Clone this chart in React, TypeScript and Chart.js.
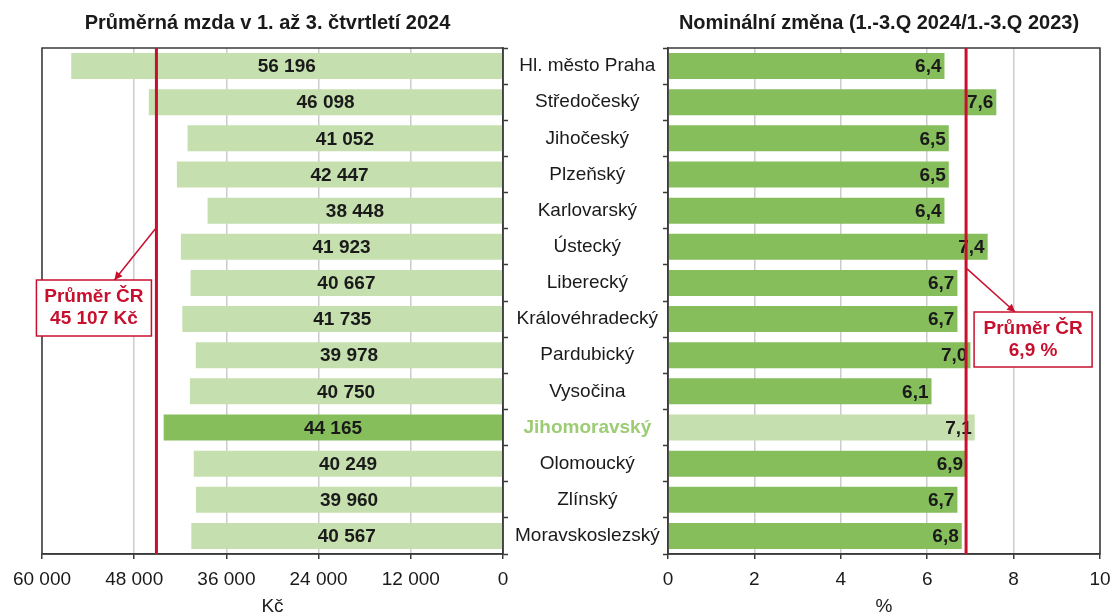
import React, { useEffect, useRef } from 'react';
import { Chart, registerables } from 'chart.js';

Chart.register(...registerables);

const regions = [
  'Hl. město Praha',
  'Středočeský',
  'Jihočeský',
  'Plzeňský',
  'Karlovarský',
  'Ústecký',
  'Liberecký',
  'Královéhradecký',
  'Pardubický',
  'Vysočina',
  'Jihomoravský',
  'Olomoucký',
  'Zlínský',
  'Moravskoslezský',
];
const avgWage = [56196, 46098, 41052, 42447, 38448, 41923, 40667, 41735, 39978, 40750, 44165, 40249, 39960, 40567];
const nominalChange = [6.4, 7.6, 6.5, 6.5, 6.4, 7.4, 6.7, 6.7, 7.0, 6.1, 7.1, 6.9, 6.7, 6.8];
const wageAxis = { min: 0, max: 60000, step: 12000 };
const changeAxis = { min: 0, max: 10, step: 2 };
const avgWageCR = 45107;
const avgChangeCR = 6.9;
const highlightIndex = 10;
const leftTitle = 'Průměrná mzda v 1. až 3. čtvrtletí 2024';
const rightTitle = 'Nominální změna (1.-3.Q 2024/1.-3.Q 2023)';
const leftAxisTitle = 'Kč';
const rightAxisTitle = '%';
const leftNote = ['Průměr ČR', '45 107 Kč'];
const rightNote = ['Průměr ČR', '6,9 %'];

const FONT = "'Liberation Sans', Arial, sans-serif";
const LIGHT = '#c5dfae';
const DARK = '#86be5c';
const HILITE_TEXT = '#9ccc74';
const RED = '#c8102e';
const AXIS = '#3a3a3a';
const GRID = '#cccccc';
const TEXT = '#1a1a1a';

const fmtThousands = (n: number) => String(Math.round(n)).replace(/\B(?=(\d{3})+(?!\d))/g, ' ');
const fmtDecimal = (n: number) => n.toFixed(1).replace('.', ',');

function drawArrow(ctx: CanvasRenderingContext2D, x0: number, y0: number, x1: number, y1: number) {
  ctx.save();
  ctx.strokeStyle = RED;
  ctx.fillStyle = RED;
  ctx.lineWidth = 1.5;
  ctx.beginPath();
  ctx.moveTo(x0, y0);
  ctx.lineTo(x1, y1);
  ctx.stroke();
  const a = Math.atan2(y1 - y0, x1 - x0);
  const len = 8;
  const w = 4;
  ctx.beginPath();
  ctx.moveTo(x1, y1);
  ctx.lineTo(x1 - len * Math.cos(a) + w * Math.sin(a), y1 - len * Math.sin(a) - w * Math.cos(a));
  ctx.lineTo(x1 - len * Math.cos(a) - w * Math.sin(a), y1 - len * Math.sin(a) + w * Math.cos(a));
  ctx.closePath();
  ctx.fill();
  ctx.restore();
}

function drawNote(ctx: CanvasRenderingContext2D, left: number, top: number, w: number, h: number, lines: string[]) {
  ctx.save();
  ctx.fillStyle = '#ffffff';
  ctx.fillRect(left, top, w, h);
  ctx.strokeStyle = RED;
  ctx.lineWidth = 1.5;
  ctx.strokeRect(left, top, w, h);
  ctx.fillStyle = RED;
  ctx.font = `bold 19px ${FONT}`;
  ctx.textAlign = 'center';
  ctx.textBaseline = 'middle';
  ctx.fillText(lines[0], left + w / 2, top + 17);
  ctx.fillText(lines[1], left + w / 2, top + 39);
  ctx.restore();
}

function avgLine(chart: any, value: number) {
  const { ctx, chartArea } = chart;
  const x = chart.scales.x.getPixelForValue(value);
  ctx.save();
  ctx.strokeStyle = RED;
  ctx.lineWidth = 3;
  ctx.beginPath();
  ctx.moveTo(x, chartArea.top);
  ctx.lineTo(x, chartArea.bottom);
  ctx.stroke();
  ctx.restore();
  return x;
}

function frame(chart: any) {
  const { ctx, chartArea } = chart;
  ctx.save();
  ctx.strokeStyle = AXIS;
  ctx.lineWidth = 1.5;
  ctx.strokeRect(chartArea.left, chartArea.top, chartArea.right - chartArea.left, chartArea.bottom - chartArea.top);
  ctx.restore();
}

function title(chart: any, text: string) {
  const { ctx, chartArea } = chart;
  ctx.save();
  ctx.fillStyle = TEXT;
  ctx.font = `bold 20px ${FONT}`;
  ctx.textAlign = 'center';
  ctx.textBaseline = 'middle';
  ctx.fillText(text, (chartArea.left + chartArea.right) / 2 - 5, 23);
  ctx.restore();
}

const tickFont = { family: FONT, size: 19 };

export default function App() {
  const leftRef = useRef<HTMLCanvasElement>(null);
  const rightRef = useRef<HTMLCanvasElement>(null);

  useEffect(() => {
    const leftPlugin = {
      id: 'leftDecor',
      afterDatasetsDraw(chart: any) {
        const { ctx } = chart;
        const meta = chart.getDatasetMeta(0);
        ctx.save();
        ctx.font = `bold 19px ${FONT}`;
        ctx.fillStyle = TEXT;
        ctx.textAlign = 'center';
        ctx.textBaseline = 'middle';
        meta.data.forEach((bar: any, i: number) => {
          const p = bar.getProps(['x', 'base', 'y'], true);
          ctx.fillText(fmtThousands(avgWage[i]), (p.x + p.base) / 2, p.y + 1);
        });
        ctx.restore();
      },
      afterDraw(chart: any) {
        frame(chart);
        const x = avgLine(chart, avgWageCR);
        const y = chart.scales.y;
        const yStart = (y.getPixelForValue(4) + y.getPixelForValue(5)) / 2;
        const boxTop = chart.chartArea.top + 232;
        drawArrow(chart.ctx, x - 1, yStart, x - 42, boxTop);
        drawNote(chart.ctx, x - 120, boxTop, 115, 56, leftNote);
        title(chart, leftTitle);
      },
    };

    const rightPlugin = {
      id: 'rightDecor',
      afterDatasetsDraw(chart: any) {
        const { ctx } = chart;
        const meta = chart.getDatasetMeta(0);
        ctx.save();
        ctx.font = `bold 19px ${FONT}`;
        ctx.fillStyle = TEXT;
        ctx.textAlign = 'right';
        ctx.textBaseline = 'middle';
        meta.data.forEach((bar: any, i: number) => {
          const p = bar.getProps(['x', 'y'], true);
          ctx.fillText(fmtDecimal(nominalChange[i]), p.x - 3, p.y + 1);
        });
        ctx.restore();
      },
      afterDraw(chart: any) {
        frame(chart);
        const x = avgLine(chart, avgChangeCR);
        const y = chart.scales.y;
        const yStart = (y.getPixelForValue(5) + y.getPixelForValue(6)) / 2 + 4;
        const boxTop = chart.chartArea.top + 264;
        drawArrow(chart.ctx, x + 1, yStart, x + 49, boxTop);
        drawNote(chart.ctx, x + 8, boxTop, 118, 55, rightNote);
        title(chart, rightTitle);
      },
    };

    const xCommon = (min: number, max: number, step: number, fmt: (v: number) => string, axisTitle: string, reverse: boolean) => ({
      reverse,
      min,
      max,
      ticks: {
        stepSize: step,
        callback: (v: any) => fmt(Number(v)),
        font: tickFont,
        color: TEXT,
        padding: 9,
        maxRotation: 0,
        autoSkip: false,
      },
      grid: { color: GRID, lineWidth: 1.5, tickColor: AXIS, tickLength: 5, tickWidth: 1.5 },
      border: { color: AXIS, width: 1.5 },
      title: {
        display: true,
        text: axisTitle,
        color: TEXT,
        font: { family: FONT, size: 19, lineHeight: 1 },
        padding: 0,
      },
      afterFit: (s: any) => {
        s.height = 62;
        s.paddingLeft = 0;
        s.paddingRight = 0;
      },
    });

    const left = new Chart(leftRef.current!, {
      type: 'bar',
      data: {
        labels: regions,
        datasets: [
          {
            data: avgWage,
            backgroundColor: avgWage.map((_, i) => (i === highlightIndex ? DARK : LIGHT)),
            barPercentage: 0.72,
            categoryPercentage: 1,
          },
        ],
      },
      options: {
        indexAxis: 'y',
        responsive: false,
        animation: false,
        layout: { padding: { left: 42, top: 48, right: 0, bottom: 0 } },
        plugins: { legend: { display: false }, tooltip: { enabled: false } },
        scales: {
          x: xCommon(wageAxis.min, wageAxis.max, wageAxis.step, fmtThousands, leftAxisTitle, true) as any,
          y: {
            position: 'right',
            grid: { drawOnChartArea: false, tickColor: AXIS, tickLength: 5, tickWidth: 1.5, offset: true },
            border: { color: AXIS, width: 1.5 },
            ticks: {
              crossAlign: 'center',
              padding: 7,
              font: (c: any) => ({ family: FONT, size: 19, weight: c.index === highlightIndex ? 'bold' : 'normal' }),
              color: (c: any) => (c.index === highlightIndex ? HILITE_TEXT : TEXT),
              autoSkip: false,
            },
            afterFit: (s: any) => {
              s.width = 165;
            },
          } as any,
        },
      },
      plugins: [leftPlugin],
    });

    const right = new Chart(rightRef.current!, {
      type: 'bar',
      data: {
        labels: regions,
        datasets: [
          {
            data: nominalChange,
            backgroundColor: nominalChange.map((_, i) => (i === highlightIndex ? LIGHT : DARK)),
            barPercentage: 0.72,
            categoryPercentage: 1,
          },
        ],
      },
      options: {
        indexAxis: 'y',
        responsive: false,
        animation: false,
        layout: { padding: { left: 0, top: 48, right: 12, bottom: 0 } },
        plugins: { legend: { display: false }, tooltip: { enabled: false } },
        scales: {
          x: xCommon(changeAxis.min, changeAxis.max, changeAxis.step, (v) => String(v), rightAxisTitle, false) as any,
          y: {
            position: 'left',
            grid: { drawOnChartArea: false, tickColor: AXIS, tickLength: 5, tickWidth: 1.5, offset: true },
            border: { color: AXIS, width: 1.5 },
            ticks: { display: false },
            afterFit: (s: any) => {
              s.width = 38;
            },
          } as any,
        },
      },
      plugins: [rightPlugin],
    });

    return () => {
      left.destroy();
      right.destroy();
    };
  }, []);

  return (
    <div style={{ position: 'absolute', left: 0, top: 0, width: 1112, height: 616, background: '#ffffff', overflow: 'hidden' }}>
      <canvas ref={leftRef} width={668} height={616} style={{ position: 'absolute', left: 0, top: 0 }} />
      <canvas ref={rightRef} width={482} height={616} style={{ position: 'absolute', left: 630, top: 0 }} />
    </div>
  );
}
